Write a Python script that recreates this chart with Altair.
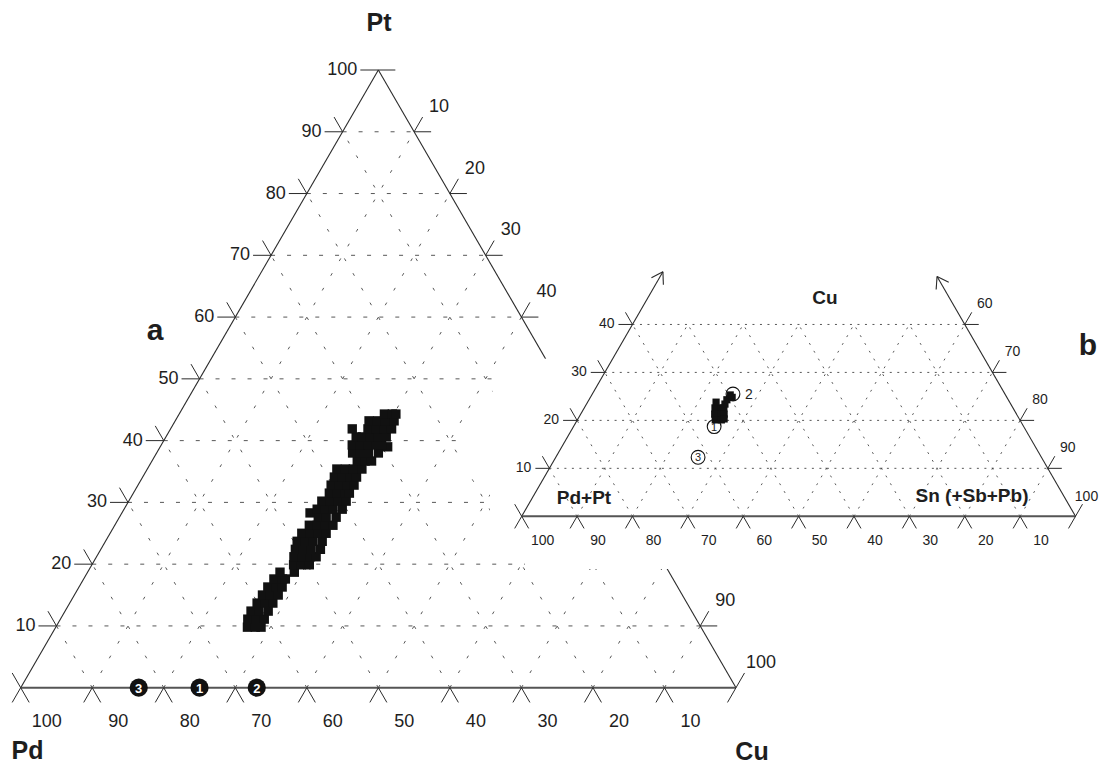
import math
import altair as alt
import pandas as pd

# ------------------------------------------------------------------ data
# (a) Pt - Pd - Cu diagram, at.%  (Pd = 100 - Pt - Cu)
a_pt = [
    9.8, 9.8, 9.8,
    11.1, 11.1, 11.1,
    12.4, 12.4, 12.4,
    13.7, 13.7, 13.7,
    15.0, 15.0, 15.0,
    16.3, 16.3, 16.3,
    17.6, 17.6, 17.6,
    18.7, 18.7,
    19.9, 19.9, 19.9,
    21.2, 21.2, 21.2, 21.2,
    22.4, 22.4, 22.4, 22.4,
    23.7, 23.7, 23.7, 23.7,
    25.0, 25.0, 25.0, 25.0,
    26.3, 26.3, 26.3, 26.3,
    27.6, 27.6, 27.6,
    28.3,
    28.9, 28.9, 28.9, 28.9,
    30.2, 30.2, 30.2, 30.2,
    31.5, 31.5, 31.5, 31.5,
    32.8, 32.8, 32.8, 32.8,
    34.1, 34.1, 34.1, 34.1,
    35.4, 35.4, 35.4, 35.4,
    36.7, 36.7, 36.7,
    38.0, 38.0, 38.0, 38.0,
    39.0,
    39.3, 39.3, 39.3, 39.3, 39.3,
    40.6, 40.6, 40.6, 40.6, 40.6,
    41.9, 41.9, 41.9, 41.9, 41.9,
    43.2, 43.2, 43.2, 43.2,
    44.3, 44.3, 44.3,
]
a_cu = [
    26.8, 27.9, 28.7,
    26.2, 27.4, 28.5,
    26.0, 27.1, 28.4,
    26.2, 27.3, 28.4,
    26.3, 27.4, 28.5,
    26.4, 27.6, 28.4,
    26.6, 27.8, 28.2,
    26.9, 28.9,
    28.2, 29.3, 30.4,
    27.6, 28.8, 29.9, 30.7,
    27.2, 28.3, 29.4, 30.7,
    26.8, 27.9, 29.0, 30.3,
    26.8, 28.0, 29.1, 30.2,
    27.2, 28.3, 29.4, 30.5,
    27.8, 28.9, 30.3,
    26.3,
    27.0, 28.1, 29.2, 30.5,
    27.0, 28.2, 29.3, 30.4,
    27.4, 28.5, 29.6, 30.2,
    27.0, 28.1, 29.2, 30.2,
    26.8, 27.9, 29.0, 29.9,
    26.5, 27.7, 28.8, 30.0,
    28.7, 29.8, 30.7,
    27.4, 28.5, 29.6, 31.0,
    31.8,
    26.7, 27.8, 28.9, 30.1, 30.8,
    26.6, 27.5, 28.6, 29.7, 30.8,
    25.4, 27.6, 28.8, 29.9, 30.9,
    27.1, 28.3, 29.4, 30.6,
    28.7, 29.8, 30.3,
]
# numbered reference compositions on the Pd-Cu join (Pt = 0)
a_ref_cu = [16.5, 25.0, 33.0]
a_ref_lab = ["3", "1", "2"]

# (b) (Pd+Pt) - Cu - Sn(+Sb+Pb) diagram, at.%
b_cu = [22.6, 22.6, 22.6, 21.3, 21.3, 21.3, 20.1, 20.1, 20.3, 23.8, 24.3, 25.3, 23.4, 24.8]
b_sn = [23.6, 24.7, 25.2, 24.2, 25.3, 25.9, 24.9, 26.0, 26.4, 23.2, 24.9, 25.0, 25.0, 25.6]
b_ref_cu = [18.7, 25.5, 12.3]
b_ref_sn = [25.4, 25.4, 25.7]
b_ref_lab = ["1", "2", "3"]

# tick values
a_grid = [10, 20, 30, 40, 50, 60, 70, 80, 90]
a_left_ticks = [10, 20, 30, 40, 50, 60, 70, 80, 90, 100]     # Pt
a_right_ticks = [10, 20, 30, 40, 50, 60, 70, 80, 90, 100]    # Cu
a_bottom_ticks = [10, 20, 30, 40, 50, 60, 70, 80, 90, 100]   # Pd
b_grid_cu = [10, 20, 30, 40]
b_grid = [10, 20, 30, 40, 50, 60, 70, 80, 90]
b_left_ticks = [10, 20, 30, 40]                              # Cu
b_right_ticks = [60, 70, 80, 90, 100]                        # Sn
b_bottom_ticks = [10, 20, 30, 40, 50, 60, 70, 80, 90, 100]   # Pd+Pt

# ------------------------------------------------------------------ layout
A_X0, A_Y0, A_L, A_H = 20.7, 687.7, 715.3, 617.7
B_X0, B_Y0, B_L, B_H = 521.7, 516.3, 553.8, 479.6
S3 = math.sqrt(3) / 2.0
UL, UR, DL, DR = (-0.5, -S3), (0.5, -S3), (-0.5, S3), (0.5, S3)
FONT = "Liberation Sans"
INK = "#1e1e1e"
X_MAX, Y_MAX = 1100, 766


def pa(pt, cu):
    return (A_X0 + A_L * (cu + pt / 2.0) / 100.0, A_Y0 - A_H * pt / 100.0)


def pb(cu, sn):
    return (B_X0 + B_L * (sn + cu / 2.0) / 100.0, B_Y0 - B_H * cu / 100.0)


def mv(p, d, n):
    return (p[0] + d[0] * n, p[1] + d[1] * n)


def seg(rows, p, q):
    rows.append({"x": p[0], "y": p[1], "x2": q[0], "y2": q[1]})


XS = alt.Scale(domain=[8, X_MAX], nice=False, zero=False)
YS = alt.Scale(domain=[8, Y_MAX], nice=False, zero=False, reverse=True)


def rules(rows, **mk):
    return alt.Chart(pd.DataFrame(rows)).mark_rule(**mk).encode(
        x=alt.X("x:Q", scale=XS, axis=None),
        y=alt.Y("y:Q", scale=YS, axis=None),
        x2="x2:Q", y2="y2:Q")


def texts(rows, **mk):
    return alt.Chart(pd.DataFrame(rows)).mark_text(font=FONT, color=INK, **mk).encode(
        x=alt.X("x:Q", scale=XS, axis=None),
        y=alt.Y("y:Q", scale=YS, axis=None),
        text="t:N")


def lab(rows, p, t, dx=0.0, dy=0.0):
    rows.append({"x": p[0] + dx, "y": p[1] + dy, "t": t})


# ---------------------------------------------------------- diagram a
ga_h, ga_s = [], []
for v in a_grid:
    seg(ga_h, pa(v, 0), pa(v, 100 - v))            # constant Pt
    seg(ga_s, pa(0, v), pa(100 - v, v))            # constant Cu
    seg(ga_s, pa(0, 100 - v), pa(100 - v, 0))      # constant Pd

sides_a = []
seg(sides_a, pa(100, 0), pa(0, 0))
seg(sides_a, pa(100, 0), pa(0, 100))
base_a = []
seg(base_a, pa(0, 0), pa(0, 100))

tk_a, lab_a_left, lab_a_c = [], [], []
T = 17
for k in a_left_ticks:
    p = pa(k, 0)
    if k == 100:
        seg(tk_a, (p[0] - 18, p[1]), (p[0] + 17, p[1]))
    else:
        seg(tk_a, (p[0] - 18, p[1]), p)
        seg(tk_a, p, mv(p, UL, T))
    lab(lab_a_left, p, str(k), dx=-21)
for k in a_right_ticks:
    p = pa(100 - k, k)
    if k == 100:
        seg(tk_a, mv(p, DL, T), mv(p, UR, T))
    else:
        seg(tk_a, p, (p[0] + T, p[1]))
        seg(tk_a, p, mv(p, UR, T))
    lab(lab_a_c, p, str(k), dx=25, dy=-25)
for k in a_bottom_ticks:
    p = pa(0, 100 - k)
    if k == 100:
        seg(tk_a, p, mv(p, DL, T))
        seg(tk_a, mv(p, UL, T), mv(p, DR, T))
    else:
        seg(tk_a, p, mv(p, DL, T))
        seg(tk_a, p, mv(p, DR, T))
    lab(lab_a_c, p, str(k), dx=26, dy=34)

pts_a = pd.DataFrame({"pt": a_pt, "cu": a_cu})
pts_a["x"] = [pa(r.pt, r.cu)[0] for r in pts_a.itertuples()]
pts_a["y"] = [pa(r.pt, r.cu)[1] for r in pts_a.itertuples()]

ref_a = pd.DataFrame({"cu": a_ref_cu, "t": a_ref_lab})
ref_a["x"] = [pa(0, c)[0] for c in ref_a["cu"]]
ref_a["y"] = [pa(0, c)[1] for c in ref_a["cu"]]

# white mask where panel b is pasted over panel a
mask = pd.DataFrame({
    "y": [336, 358, 372, 430, 436, 470, 495, 545, 562, 569],
    "x": [562, 548, 494, 490, 462, 462, 490, 490, 525, 525],
})
mask["x2"] = X_MAX

# ---------------------------------------------------------- diagram b
gb_h, gb_s = [], []
for c in b_grid_cu:
    seg(gb_h, pb(c, 0), pb(c, 100 - c))
for s in b_grid:
    seg(gb_s, pb(0, s), pb(min(40, 100 - s), s))                  # constant Sn
for q in b_grid:
    ctop = min(40, 100 - q)
    seg(gb_s, pb(0, 100 - q), pb(ctop, 100 - q - ctop))           # constant Pd+Pt

sides_b = []
tipL = pb(51, 0)
tipR = pb(50, 50)
seg(sides_b, pb(0, 0), tipL)
seg(sides_b, pb(0, 100), tipR)


def arrow(rows, tip, back, ang, n):
    for sgn in (1, -1):
        a = math.radians(ang * sgn)
        d = (back[0] * math.cos(a) - back[1] * math.sin(a),
             back[0] * math.sin(a) + back[1] * math.cos(a))
        seg(rows, tip, mv(tip, d, n))


arrow(sides_b, tipL, DL, 32, 13)
arrow(sides_b, tipR, DR, 34, 13)
base_b = []
seg(base_b, pb(0, 0), pb(0, 100))

tk_b, lab_b_left, lab_b_c = [], [], []
TB = 14
for k in b_left_ticks:
    p = pb(k, 0)
    seg(tk_b, (p[0] - TB, p[1]), p)
    seg(tk_b, p, mv(p, UL, TB))
    lab(lab_b_left, p, str(k), dx=-18)
for k in b_right_ticks:
    p = pb(100 - k, k)
    if k == 100:
        seg(tk_b, mv(p, DL, TB), mv(p, UR, TB))
        lab(lab_b_c, p, str(k), dx=11, dy=-19)
    else:
        seg(tk_b, p, (p[0] + TB, p[1]))
        seg(tk_b, p, mv(p, UR, TB))
        lab(lab_b_c, p, str(k), dx=20, dy=-20)
for k in b_bottom_ticks:
    p = pb(0, 100 - k)
    if k == 100:
        seg(tk_b, p, mv(p, DL, TB))
        seg(tk_b, mv(p, UL, TB), mv(p, DR, TB))
    else:
        seg(tk_b, p, mv(p, DL, TB))
        seg(tk_b, p, mv(p, DR, TB))
    lab(lab_b_c, p, str(k), dx=21, dy=25)

pts_b = pd.DataFrame({"cu": b_cu, "sn": b_sn})
pts_b["x"] = [pb(r.cu, r.sn)[0] for r in pts_b.itertuples()]
pts_b["y"] = [pb(r.cu, r.sn)[1] for r in pts_b.itertuples()]

ref_b = pd.DataFrame({"cu": b_ref_cu, "sn": b_ref_sn, "t": b_ref_lab})
ref_b["x"] = [pb(r.cu, r.sn)[0] for r in ref_b.itertuples()]
ref_b["y"] = [pb(r.cu, r.sn)[1] for r in ref_b.itertuples()]
ref_b_in = ref_b[ref_b["t"] != "2"]
ref_b_out = ref_b[ref_b["t"] == "2"].copy()
ref_b_out["x"] = ref_b_out["x"] + 16

# ---------------------------------------------------------- titles
titles = pd.DataFrame({
    "t": ["Pt", "Pd", "Cu", "a", "b", "Cu", "Pd+Pt", "Sn (+Sb+Pb)"],
    "x": [379, 27.5, 752, 155, 1088, 825, 584, 972],
    "y": [31, 759, 760, 340, 355, 304, 504, 502],
    "fs": [25, 25, 25, 30, 30, 19, 19, 19],
})


def xy(xf="x", yf="y"):
    return dict(x=alt.X(f"{xf}:Q", scale=XS, axis=None),
                y=alt.Y(f"{yf}:Q", scale=YS, axis=None))


layers = [
    rules(ga_h, color="#444", strokeWidth=0.9, strokeDash=[4, 12]),
    rules(ga_s, color="#444", strokeWidth=0.9, strokeDash=[3, 14]),
    rules(sides_a, color="#2a2a2a", strokeWidth=1.1),
    rules(base_a, color="#555", strokeWidth=2),
    rules(tk_a, color="#2a2a2a", strokeWidth=1),
    texts(lab_a_left, align="right", baseline="middle", fontSize=18),
    texts(lab_a_c, align="center", baseline="middle", fontSize=18),
    alt.Chart(pts_a).mark_square(size=88, color="#111", opacity=1).encode(**xy()),
    alt.Chart(ref_a).mark_circle(size=330, color="#111", opacity=1).encode(**xy()),
    alt.Chart(ref_a).mark_text(font=FONT, fontWeight="bold", fontSize=13, color="white",
                               baseline="middle", dy=1).encode(text="t:N", **xy()),
    alt.Chart(mask).mark_area(orient="horizontal", color="white", opacity=1).encode(
        y=alt.Y("y:Q", scale=YS, axis=None),
        x=alt.X("x:Q", scale=XS, axis=None),
        x2="x2:Q"),
    rules(gb_h, color="#444", strokeWidth=0.9, strokeDash=[2, 5.5]),
    rules(gb_s, color="#444", strokeWidth=0.9, strokeDash=[2, 7]),
    rules(sides_b, color="#2a2a2a", strokeWidth=1.1),
    rules(base_b, color="#555", strokeWidth=2),
    rules(tk_b, color="#2a2a2a", strokeWidth=1),
    texts(lab_b_left, align="right", baseline="middle", fontSize=14),
    texts(lab_b_c, align="center", baseline="middle", fontSize=14),
    alt.Chart(pts_b).mark_square(size=52, color="#111", opacity=1).encode(**xy()),
    alt.Chart(ref_b).mark_point(shape="circle", size=190, filled=False, color="#111",
                                strokeWidth=1.1, opacity=1).encode(**xy()),
    alt.Chart(ref_b_in).mark_text(font=FONT, fontSize=11, color=INK,
                                  baseline="middle", dy=1).encode(text="t:N", **xy()),
    alt.Chart(ref_b_out).mark_text(font=FONT, fontSize=14, color=INK,
                                   baseline="middle", dy=1).encode(text="t:N", **xy()),
    alt.Chart(titles).mark_text(font=FONT, fontWeight="bold", color=INK,
                                baseline="alphabetic").encode(
        text="t:N", size=alt.Size("fs:Q", scale=None), **xy()),
]

chart = alt.layer(*layers).properties(
    width=X_MAX - 8, height=Y_MAX - 8, padding=0,
    autosize=alt.AutoSizeParams(type="none"),
).configure_view(stroke=None)

chart.save("out.html", embed_options={"renderer": "svg", "actions": False})
